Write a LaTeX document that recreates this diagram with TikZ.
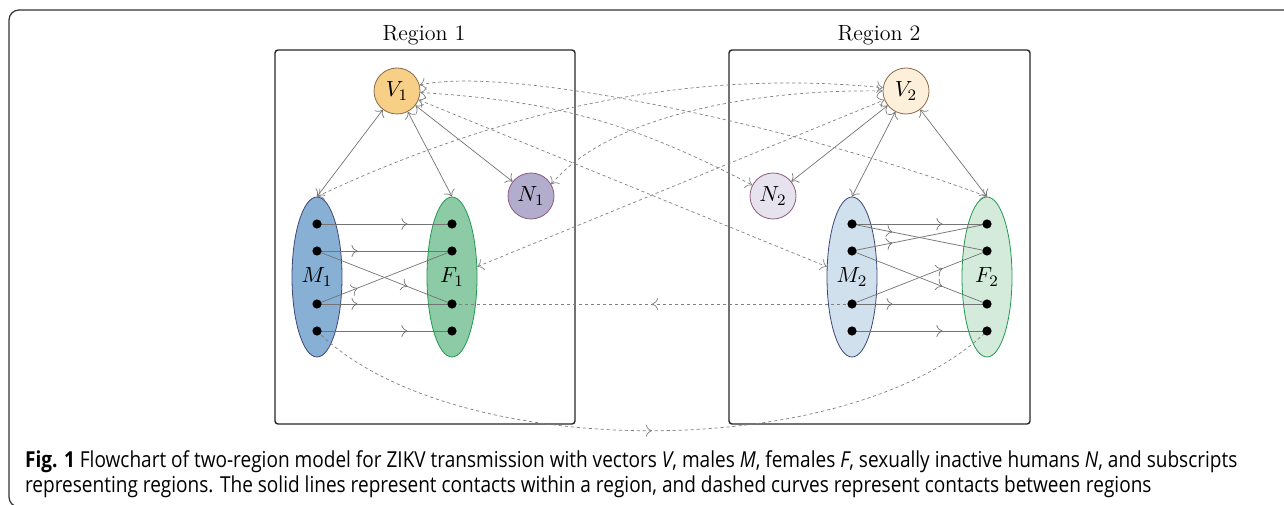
\documentclass[tikz,border=0pt]{standalone}
\usepackage{fontspec}
\newfontfamily\capfont{Open Sans}
\usetikzlibrary{shapes.geometric,arrows.meta,decorations.markings}

\definecolor{vonefill}{HTML}{F8CF86}
\definecolor{vtwofill}{HTML}{FDF0DA}
\definecolor{vdraw}{HTML}{8A6A4E}
\definecolor{nonefill}{HTML}{B2ACCD}
\definecolor{ntwofill}{HTML}{E6E3EF}
\definecolor{ndraw}{HTML}{8C5C80}
\definecolor{monefill}{HTML}{87B0D4}
\definecolor{mtwofill}{HTML}{D0E0EC}
\definecolor{mdraw}{HTML}{3D4677}
\definecolor{fonefill}{HTML}{8CCBA5}
\definecolor{ftwofill}{HTML}{D4EBDC}
\definecolor{fdraw}{HTML}{20994E}

\begin{document}
\begin{tikzpicture}[x=0.5pt,y=0.5pt,
  font=\fontsize{11}{13}\selectfont,
  >={Computer Modern Rightarrow[length=3pt,width=6pt]},
  pop/.style={circle,draw,minimum size=23pt,inner sep=0pt},
  grp/.style={ellipse,draw,minimum width=25pt,minimum height=80pt,inner sep=0pt},
  dot/.style={circle,fill=black,minimum size=4.6pt,inner sep=0pt},
  link/.style={draw=black!55,line width=0.35pt},
  travel/.style={draw=black!50,dash pattern=on 1.6pt off 1.4pt,line width=0.35pt},
  midarr/.style={postaction={decorate},decoration={markings,mark=at position #1 with {\arrow{>}}}},
  regbox/.style={draw=black!85,line width=0.7pt,rounded corners=1.5pt},
  captext/.style={anchor=base west,font=\capfont\fontsize{11}{13}\selectfont}]
\useasboundingbox (0,0) rectangle (1284,504);
\draw[black!80,line width=0.6pt,rounded corners=5pt] (1300,494) -- (9,494) -- (9,-3) -- (1300,-3);

% regions
\draw[regbox] (275,80) rectangle (575,454);
\draw[regbox] (729,80) rectangle (1030,454);
\node (reg1) at (424,469) {Region 1};
\node (reg2) at (879,469) {Region 2};

% populations
\node[pop,fill=vonefill,draw=vdraw] (V1) at (397,413) {$V_1$};
\node[pop,fill=vtwofill,draw=vdraw] (V2) at (906,413) {$V_2$};
\node[pop,fill=nonefill,draw=ndraw] (N1) at (531,308) {$N_1$};
\node[pop,fill=ntwofill,draw=ndraw] (N2) at (773,308) {$N_2$};
\node[grp,fill=monefill,draw=mdraw] (M1) at (317,227) {$M_1$};
\node[grp,fill=fonefill,draw=fdraw] (F1) at (452,227) {$F_1$};
\node[grp,fill=mtwofill,draw=mdraw] (M2) at (852,227) {$M_2$};
\node[grp,fill=ftwofill,draw=fdraw] (F2) at (987,227) {$F_2$};

\foreach \g/\x in {m1/317,f1/452,m2/852,f2/987}{
  \foreach \r/\y in {a/280,b/253,c/200,d/173}
    \coordinate (\g\r) at (\x,\y);
}

% contacts within a region
\draw[link,<->] (V1) -- (M1.north);
\draw[link,<->] (V1) -- (F1.north);
\draw[link,<->] (V1) -- (N1);
\draw[link,<->] (V2) -- (M2.north);
\draw[link,<->] (V2) -- (F2.north);
\draw[link,<->] (V2) -- (N2);
\draw[link,midarr=0.67] (m1a) -- (f1a);
\draw[link,midarr=0.3] (m1b) -- (f1b);
\draw[link,midarr=0.67] (m1b) -- (f1c);
\draw[link,midarr=0.3] (m1c) -- (f1b);
\draw[link,midarr=0.3] (m1c) -- (f1c);
\draw[link,midarr=0.67] (m1d) -- (f1d);
\draw[link,midarr=0.67] (m2a) -- (f2a);
\draw[link,midarr=0.3] (m2a) -- (f2b);
\draw[link,midarr=0.3] (m2b) -- (f2a);
\draw[link,midarr=0.67] (m2b) -- (f2c);
\draw[link,midarr=0.67] (m2c) -- (f2b);
\draw[link,midarr=0.3] (m2c) -- (f2c);
\draw[link,midarr=0.67] (m2d) -- (f2d);

% contacts between regions
\draw[travel,<->] (V1.15) .. controls (520,440) and (820,370) .. (F2.north);
\draw[travel,<->] (V1) to[bend left=12] (N2);
\draw[travel,<->] (V1) -- (M2);
\draw[travel,<->] (M1.north) .. controls (450,370) and (650,440) .. (V2.172);
\draw[travel,<->] (N1.30) .. controls (610,390) and (760,415) .. (V2.180);
\draw[travel,<->] (F1) -- (V2);
\draw[travel,midarr=0.5] (m2c) -- (f1c);
\draw[travel,midarr=0.5] (m1d) .. controls (450,40) and (850,40) .. (f2d);

\foreach \g in {m1,f1,m2,f2}{
  \foreach \r in {a,b,c,d}
    \node[dot] at (\g\r) {};
}

% caption
\node[captext] (cap1) at (18,37)
  {\scalebox{0.865}[1]{\textbf{Fig. 1} Flowchart of two-region model for ZIKV transmission with vectors \textit{V}, males \textit{M}, females \textit{F}, sexually inactive humans \textit{N}, and subscripts}};
\node[captext] (cap2) at (18,12)
  {\scalebox{0.865}[1]{representing regions. The solid lines represent contacts within a region, and dashed curves represent contacts between regions}};
\end{tikzpicture}
\end{document}
